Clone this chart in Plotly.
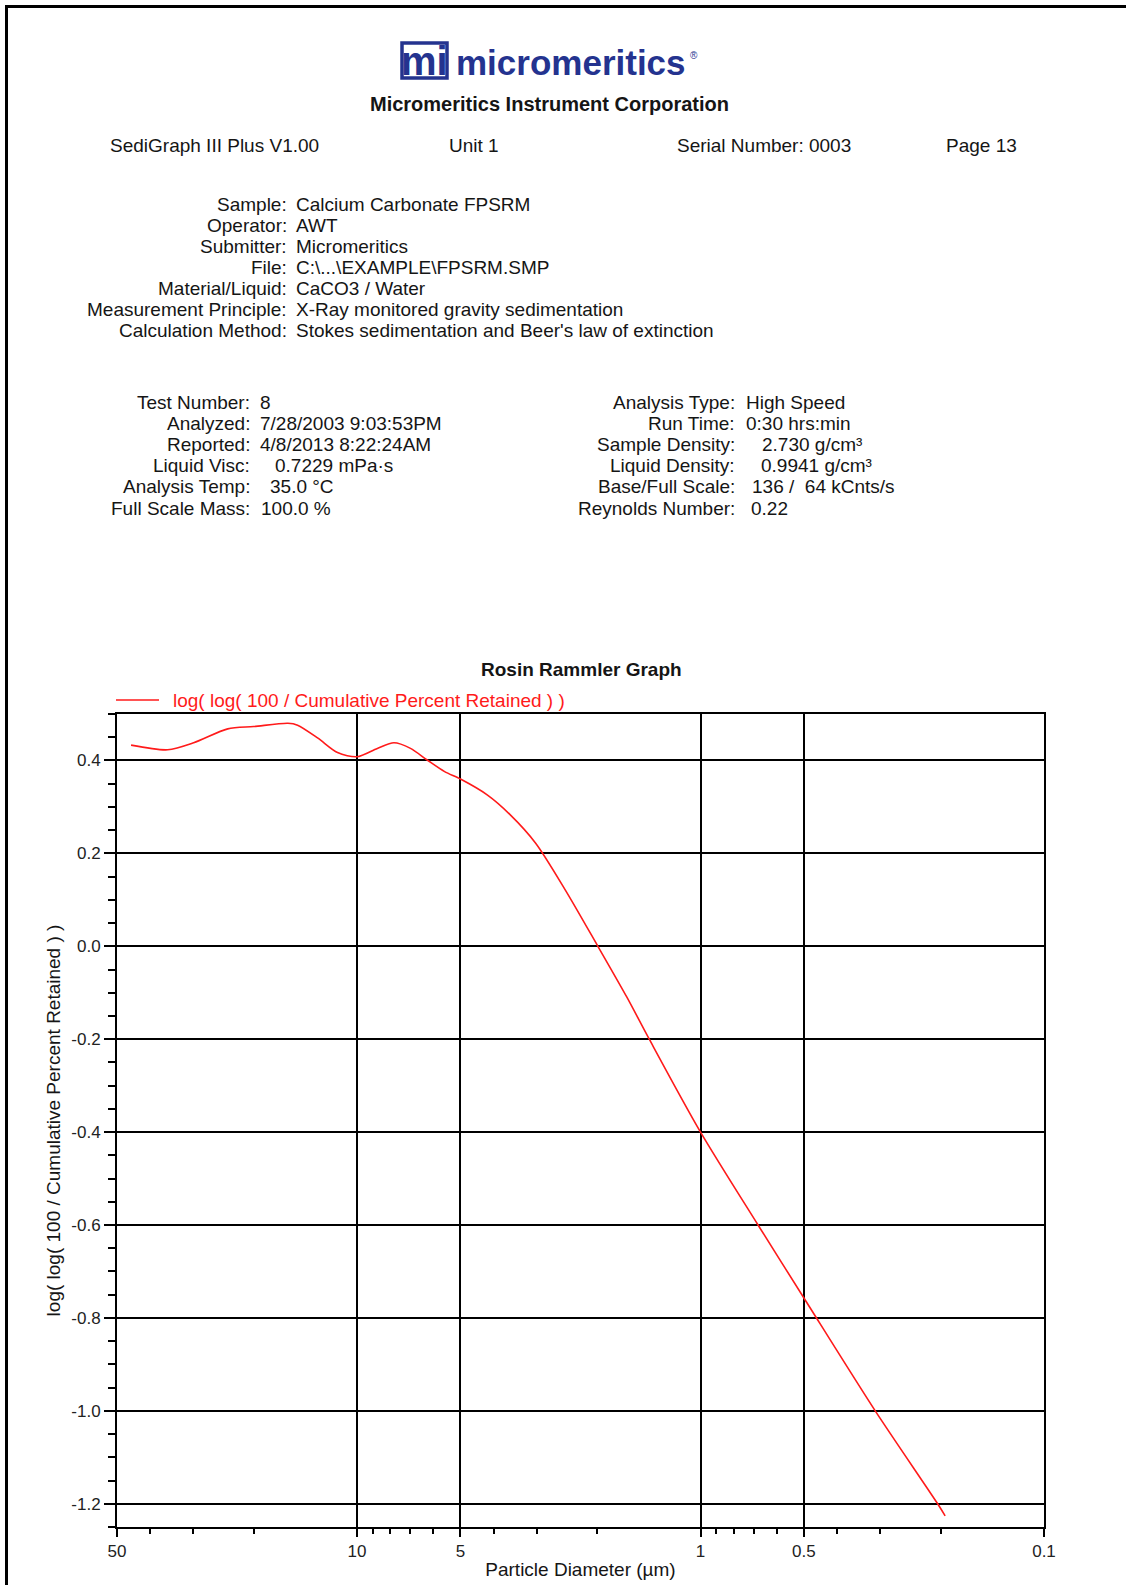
import numpy as np
import plotly.graph_objects as go

# ---------------- data ----------------
diameter_um = [45.5, 35.6, 29.9, 23.8, 20.0, 15.9, 14.9, 13.0, 11.4, 10.0,
               8.73, 7.81, 6.99, 6.25, 5.56, 5.0, 4.18, 3.58, 3.02, 2.47,
               1.99, 1.64, 1.41, 1.0, 0.68, 0.5, 0.31, 0.204, 0.194]
rr_value = [0.433, 0.423, 0.438, 0.468, 0.473, 0.480, 0.476, 0.448, 0.417, 0.408,
            0.426, 0.438, 0.426, 0.401, 0.376, 0.360, 0.326, 0.283, 0.222, 0.120,
            0.0, -0.109, -0.2, -0.4, -0.6, -0.757, -1.0, -1.2, -1.226]

x_tick_values = [50, 10, 5, 1, 0.5, 0.1]
x_tick_labels = ["50", "10", "5", "1", "0.5", "0.1"]
x_minor_ticks = [40, 30, 20, 9, 8, 7, 6, 4, 3, 2, 0.9, 0.8, 0.7, 0.6, 0.4, 0.3, 0.2]
y_tick_values = [-1.2, -1.0, -0.8, -0.6, -0.4, -0.2, 0.0, 0.2, 0.4]
y_tick_labels = ["-1.2", "-1.0", "-0.8", "-0.6", "-0.4", "-0.2", "0.0", "0.2", "0.4"]

header_row = ["SediGraph III Plus V1.00", "Unit 1", "Serial Number: 0003", "Page 13"]
sample_labels = ["Sample:", "Operator:", "Submitter:", "File:", "Material/Liquid:",
                 "Measurement Principle:", "Calculation Method:"]
sample_values = ["Calcium Carbonate FPSRM", "AWT", "Micromeritics", "C:\\...\\EXAMPLE\\FPSRM.SMP",
                 "CaCO3 / Water", "X-Ray monitored gravity sedimentation",
                 "Stokes sedimentation and Beer's law of extinction"]
test_labels = ["Test Number:", "Analyzed:", "Reported:", "Liquid Visc:", "Analysis Temp:", "Full Scale Mass:"]
test_values = ["8", "7/28/2003 9:03:53PM", "4/8/2013 8:22:24AM", "0.7229 mPa·s", "35.0 °C", "100.0 %"]
run_labels = ["Analysis Type:", "Run Time:", "Sample Density:", "Liquid Density:", "Base/Full Scale:", "Reynolds Number:"]
run_values = ["High Speed", "0:30 hrs:min", "2.730 g/cm³", "0.9941 g/cm³", "136 /  64 kCnts/s", "0.22"]

title_text = "Rosin Rammler Graph"
series_name = "log( log( 100 / Cumulative Percent Retained ) )"
x_title = "Particle Diameter (µm)"

# ---------------- layout helpers ----------------
W, H = 1126, 1585
L, R, T, B = 117, 1044, 714, 1527
FONT = "Liberation Sans, Arial, sans-serif"
TXT = "#151515"
BLUE = "#24338f"


def px(x):
    return (x - L) / (R - L)


def py(y):
    return (B - y) / (B - T)


annotations = []
shapes = []


def text(x, y, s, anchor="left", size=19, color=TXT, bold=False):
    annotations.append(dict(
        xref="paper", yref="paper", x=px(x), y=py(y),
        text=f"<b>{s}</b>" if bold else s, showarrow=False,
        xanchor=anchor, yanchor="middle", borderpad=0,
        font=dict(family=FONT, size=size, color=color)))


# logo
shapes.append(dict(type="rect", xref="paper", yref="paper",
                   x0=px(402), x1=px(447), y0=py(78), y1=py(43),
                   line=dict(color=BLUE, width=3.5), fillcolor="white"))
text(424.5, 61, "mi", anchor="center", size=40, color=BLUE, bold=True)
text(455, 62, "micromeritics", anchor="left", size=35, color=BLUE, bold=True)
text(689, 55, "®", anchor="left", size=10, color=BLUE)

text(549, 104, "Micromeritics Instrument Corporation", anchor="center", size=20, bold=True)

for xx, s in zip([109, 448, 676, 945], header_row):
    text(xx, 145, s)

for i, (lab, val) in enumerate(zip(sample_labels, sample_values)):
    yy = 204 + i * 21.05
    text(288, yy, lab, anchor="right")
    text(295, yy, val)

test_value_x = [259, 259, 259, 274, 269, 260]
run_value_x = [745, 745, 761, 760, 751, 750]
for i in range(len(test_labels)):
    yy = 402 + i * 21.2
    text(251, yy, test_labels[i], anchor="right")
    text(test_value_x[i], yy, test_values[i])
    text(736, yy, run_labels[i], anchor="right")
    text(run_value_x[i], yy, run_values[i])

# chart title and legend
text(581, 669, title_text, anchor="center", size=19, bold=True)
shapes.append(dict(type="line", xref="paper", yref="paper",
                   x0=px(116), x1=px(159), y0=py(700), y1=py(700),
                   line=dict(color="#ff1a1a", width=1.5)))
text(172, 700, series_name, color="#ff1a1a")

# page frame (top and left)
shapes.append(dict(type="line", xref="paper", yref="paper",
                   x0=px(5), x1=px(1126), y0=py(6.5), y1=py(6.5),
                   line=dict(color="black", width=3)))
shapes.append(dict(type="line", xref="paper", yref="paper",
                   x0=px(6.5), x1=px(6.5), y0=py(5), y1=py(1585),
                   line=dict(color="black", width=3)))

fig = go.Figure()
fig.add_trace(go.Scatter(
    x=diameter_um, y=rr_value, mode="lines", name=series_name,
    line=dict(color="#ff1a1a", width=1.6, shape="spline", smoothing=0.8),
    showlegend=False))

fig.update_layout(
    width=W, height=H,
    margin=dict(l=L, r=W - R, t=T, b=H - B, pad=0, autoexpand=False),
    paper_bgcolor="white", plot_bgcolor="white",
    font=dict(family=FONT, size=17, color=TXT),
    annotations=annotations, shapes=shapes,
    xaxis=dict(
        type="log", range=[np.log10(50), -1], automargin=False,
        tickmode="array", tickvals=x_tick_values, ticktext=x_tick_labels,
        showgrid=True, gridcolor="black", gridwidth=1.8,
        ticks="outside", ticklen=8, tickwidth=1.5, tickcolor="black",
        showline=True, linecolor="black", linewidth=2, mirror=True, zeroline=False,
        tickfont=dict(size=17, color="#222"),
        minor=dict(tickmode="array", tickvals=x_minor_ticks, ticks="outside",
                   ticklen=5, tickwidth=1.5, tickcolor="black", showgrid=False),
        title=dict(text=x_title, font=dict(size=19, color=TXT), standoff=2),
    ),
    yaxis=dict(
        range=[-1.25, 0.5], automargin=False,
        tickmode="array", tickvals=y_tick_values, ticktext=y_tick_labels,
        showgrid=True, gridcolor="black", gridwidth=1.8,
        ticks="outside", ticklen=11, tickwidth=1.5, tickcolor="black",
        showline=True, linecolor="black", linewidth=2, mirror=True, zeroline=False,
        tickfont=dict(size=17, color="#222"),
        minor=dict(tick0=0, dtick=0.05, ticks="outside", ticklen=7,
                   tickwidth=1.5, tickcolor="black", showgrid=False),
        title=dict(text=series_name, font=dict(size=19, color=TXT), standoff=6),
    ),
)

fig.write_html("out.html", config={"displayModeBar": False},
               post_script="document.body.style.margin='0';document.body.style.padding='0';")
